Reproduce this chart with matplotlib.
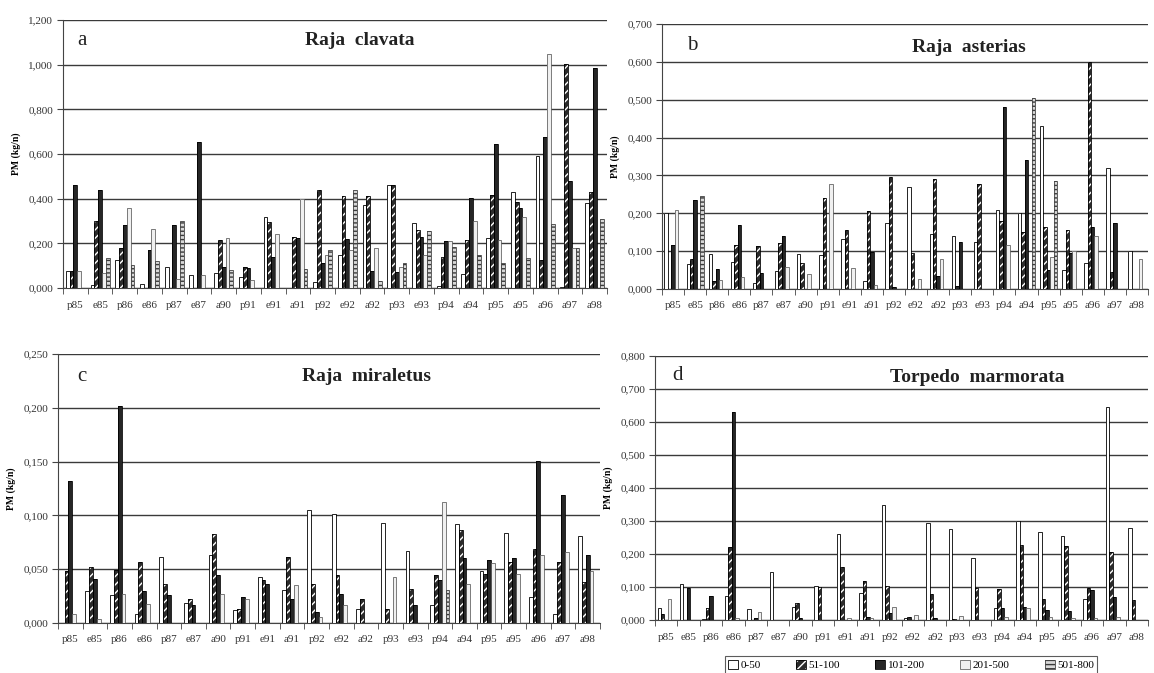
import matplotlib
matplotlib.use('Agg')
import matplotlib.pyplot as plt
import numpy as np
from matplotlib.patches import Patch
from matplotlib.legend_handler import HandlerTuple

plt.rcParams['font.family'] = ['Liberation Serif', 'DejaVu Serif']
plt.rcParams['hatch.linewidth'] = 1.0

### Data

categories = ['p85', 'e85', 'p86', 'e86', 'p87', 'e87', 'a90', 'p91', 'e91', 'a91', 'p92',
              'e92', 'a92', 'p93', 'e93', 'p94', 'a94', 'p95', 'a95', 'a96', 'a97', 'a98']
series_names = ['0-50', '51-100', '101-200', '201-500', '501-800']

# a - Raja clavata
clavata_0_50 = [0.075, 0.015, 0.125, 0.020, 0.095, 0.060, 0.065, 0.050, 0.320, 0.000, 0.028,
                0.150, 0.370, 0.460, 0.290, 0.008, 0.062, 0.225, 0.430, 0.590, 0.005, 0.380]
clavata_51_100 = [0.075, 0.300, 0.180, 0.000, 0.000, 0.000, 0.215, 0.095, 0.295, 0.230, 0.440,
                  0.410, 0.410, 0.460, 0.260, 0.140, 0.215, 0.415, 0.385, 0.125, 1.005, 0.430]
clavata_101_200 = [0.460, 0.440, 0.280, 0.170, 0.280, 0.655, 0.095, 0.090, 0.140, 0.225, 0.110,
                   0.220, 0.075, 0.070, 0.230, 0.210, 0.405, 0.645, 0.360, 0.675, 0.480, 0.985]
clavata_201_500 = [0.078, 0.065, 0.360, 0.265, 0.040, 0.060, 0.225, 0.035, 0.240, 0.400, 0.150,
                   0.170, 0.180, 0.092, 0.150, 0.210, 0.300, 0.215, 0.320, 1.050, 0.180, 0.000]
clavata_501_800 = [0.000, 0.135, 0.105, 0.120, 0.300, 0.000, 0.080, 0.000, 0.000, 0.085, 0.170,
                   0.440, 0.033, 0.110, 0.255, 0.185, 0.150, 0.110, 0.135, 0.285, 0.180, 0.310]

# b - Raja asterias
asterias_0_50 = [0.200, 0.065, 0.092, 0.072, 0.016, 0.048, 0.093, 0.090, 0.132, 0.020, 0.175,
                 0.270, 0.146, 0.140, 0.125, 0.210, 0.200, 0.430, 0.050, 0.070, 0.320, 0.100]
asterias_51_100 = [0.000, 0.080, 0.022, 0.117, 0.113, 0.121, 0.069, 0.240, 0.156, 0.205, 0.295,
                   0.094, 0.291, 0.009, 0.278, 0.180, 0.150, 0.165, 0.155, 0.600, 0.045, 0.000]
asterias_101_200 = [0.115, 0.236, 0.053, 0.170, 0.042, 0.139, 0.000, 0.000, 0.000, 0.099, 0.004,
                    0.000, 0.035, 0.125, 0.000, 0.480, 0.340, 0.050, 0.095, 0.165, 0.175, 0.000]
asterias_201_500 = [0.210, 0.000, 0.025, 0.032, 0.000, 0.058, 0.040, 0.278, 0.055, 0.011, 0.000,
                    0.026, 0.079, 0.000, 0.000, 0.115, 0.000, 0.085, 0.100, 0.140, 0.000, 0.080]
asterias_501_800 = [0.000, 0.245, 0.000, 0.000, 0.000, 0.000, 0.000, 0.000, 0.000, 0.000, 0.000,
                    0.000, 0.000, 0.000, 0.000, 0.000, 0.505, 0.285, 0.000, 0.000, 0.000, 0.000]

# c - Raja miraletus
miraletus_0_50 = [0.000, 0.030, 0.026, 0.008, 0.061, 0.019, 0.063, 0.012, 0.043, 0.031, 0.105,
                  0.101, 0.013, 0.093, 0.067, 0.017, 0.092, 0.048, 0.084, 0.024, 0.008, 0.081]
miraletus_51_100 = [0.048, 0.052, 0.049, 0.057, 0.036, 0.022, 0.083, 0.013, 0.040, 0.061, 0.036,
                    0.045, 0.022, 0.013, 0.032, 0.045, 0.086, 0.046, 0.057, 0.069, 0.057, 0.038]
miraletus_101_200 = [0.132, 0.041, 0.202, 0.030, 0.026, 0.017, 0.045, 0.024, 0.036, 0.022, 0.010,
                     0.027, 0.000, 0.000, 0.017, 0.040, 0.060, 0.059, 0.060, 0.151, 0.119, 0.063]
miraletus_201_500 = [0.008, 0.004, 0.027, 0.018, 0.000, 0.000, 0.027, 0.022, 0.000, 0.035, 0.006,
                     0.017, 0.000, 0.043, 0.000, 0.112, 0.036, 0.056, 0.046, 0.063, 0.066, 0.048]
miraletus_501_800 = [0.000, 0.000, 0.000, 0.000, 0.000, 0.000, 0.000, 0.000, 0.000, 0.000, 0.000,
                     0.000, 0.000, 0.000, 0.000, 0.031, 0.000, 0.000, 0.000, 0.000, 0.000, 0.000]

# d - Torpedo marmorata
marmorata_0_50 = [0.035, 0.108, 0.003, 0.073, 0.033, 0.146, 0.040, 0.103, 0.262, 0.083, 0.350,
                  0.005, 0.295, 0.275, 0.188, 0.035, 0.300, 0.268, 0.255, 0.065, 0.645, 0.280]
marmorata_51_100 = [0.018, 0.000, 0.035, 0.222, 0.000, 0.000, 0.053, 0.101, 0.161, 0.118, 0.103,
                    0.010, 0.080, 0.003, 0.098, 0.093, 0.228, 0.063, 0.225, 0.098, 0.205, 0.060]
marmorata_101_200 = [0.000, 0.098, 0.074, 0.629, 0.005, 0.000, 0.007, 0.000, 0.000, 0.010, 0.020,
                     0.000, 0.005, 0.000, 0.000, 0.035, 0.040, 0.030, 0.028, 0.090, 0.070, 0.000]
marmorata_201_500 = [0.063, 0.000, 0.000, 0.007, 0.023, 0.000, 0.000, 0.000, 0.007, 0.005, 0.040,
                     0.015, 0.000, 0.012, 0.000, 0.008, 0.035, 0.010, 0.005, 0.005, 0.010, 0.000]
marmorata_501_800 = [0.0] * 22

### Styles (face, hatch colour, hatch, outline)

styles = [
    dict(face='white', hcol='white', hatch=None, edge='black'),
    dict(face='#2b2b2b', hcol='white', hatch='////', edge='black'),
    dict(face='#262626', hcol='#262626', hatch=None, edge='black'),
    dict(face='#f0f0f0', hcol='#f0f0f0', hatch=None, edge='#666666'),
    dict(face='#d8d8d8', hcol='#3a3a3a', hatch='----', edge='#444444'),
]


def fmt(v):
    return f'{v:.3f}'.replace('.', ',')


def draw_panel(ax, series, ymax, ystep, letter, title, letter_xy, title_xy):
    x = np.arange(len(categories))
    w = 0.155
    for i, (vals, st) in enumerate(zip(series, styles)):
        pos = x + (i - 2) * w
        ax.bar(pos, vals, w, color=st['face'], edgecolor=st['hcol'], hatch=st['hatch'],
               linewidth=0, zorder=3)
        ax.bar(pos, vals, w, fill=False, edgecolor=st['edge'], linewidth=0.6, zorder=4)

    ax.set_xlim(-0.5, len(categories) - 0.5)
    ax.set_ylim(0, ymax)
    yt = np.arange(0, ymax + ystep / 2, ystep)
    ax.set_yticks(yt)
    ax.set_yticklabels([fmt(v) for v in yt], fontsize=8, color='#333333')
    ax.set_xticks(x)
    ax.set_xticklabels(categories, fontsize=8, color='#333333')
    ax.set_xticks(np.arange(-0.5, len(categories)), minor=True)
    ax.tick_params(axis='x', which='major', length=0, pad=9)
    ax.tick_params(axis='x', which='minor', length=4, direction='out', color='#444444')
    ax.tick_params(axis='y', length=4, direction='out', color='#444444', pad=3)
    ax.yaxis.grid(True, color='#3a3a3a', linewidth=1.0, zorder=0)
    ax.set_axisbelow(True)
    for s in ['top', 'right']:
        ax.spines[s].set_visible(False)
    ax.spines['left'].set_color('#444444')
    ax.spines['bottom'].set_color('#444444')
    ax.set_ylabel('PM (kg/n)', fontsize=7, fontweight='bold', labelpad=5)
    ax.text(letter_xy[0], letter_xy[1], letter, transform=ax.transAxes, fontsize=15,
            va='center', ha='left', color='#222222')
    ax.text(title_xy[0], title_xy[1], title, transform=ax.transAxes, fontsize=14,
            fontweight='bold', va='center', ha='left', color='#222222')


fig = plt.figure(figsize=(11.54, 6.73), dpi=100)
W, H = 1154, 673


def add_axes(l, t, r, b):
    return fig.add_axes([l / W, 1 - b / H, (r - l) / W, (b - t) / H])


ax_a = add_axes(63, 20, 607, 288)
ax_b = add_axes(662, 24, 1148, 289)
ax_c = add_axes(58, 354, 600, 623)
ax_d = add_axes(655, 356, 1148, 620)

draw_panel(ax_a, [clavata_0_50, clavata_51_100, clavata_101_200, clavata_201_500, clavata_501_800],
           1.2, 0.2, 'a', 'Raja  clavata', (0.027, 0.925), (0.445, 0.925))
draw_panel(ax_b, [asterias_0_50, asterias_51_100, asterias_101_200, asterias_201_500, asterias_501_800],
           0.7, 0.1, 'b', 'Raja  asterias', (0.051, 0.92), (0.515, 0.91))
draw_panel(ax_c, [miraletus_0_50, miraletus_51_100, miraletus_101_200, miraletus_201_500, miraletus_501_800],
           0.25, 0.05, 'c', 'Raja  miraletus', (0.035, 0.915), (0.45, 0.915))
draw_panel(ax_d, [marmorata_0_50, marmorata_51_100, marmorata_101_200, marmorata_201_500, marmorata_501_800],
           0.8, 0.1, 'd', 'Torpedo  marmorata', (0.036, 0.928), (0.477, 0.917))

### Legend

handles = []
for st in styles:
    handles.append((Patch(facecolor=st['face'], edgecolor=st['hcol'], hatch=st['hatch'], linewidth=0),
                    Patch(fill=False, edgecolor=st['edge'], linewidth=0.6)))
leg = fig.legend(handles, series_names, handler_map={tuple: HandlerTuple(ndivide=1)},
                 loc='center', bbox_to_anchor=(911 / W, 1 - 665 / H), ncol=5, fontsize=8,
                 frameon=True, fancybox=False, edgecolor='#333333', handlelength=0.9,
                 handleheight=0.9, handletextpad=0.2, columnspacing=3.2, borderpad=0.3)
leg.get_frame().set_linewidth(0.8)

fig.savefig('out.png', dpi=100)
plt.close(fig)
